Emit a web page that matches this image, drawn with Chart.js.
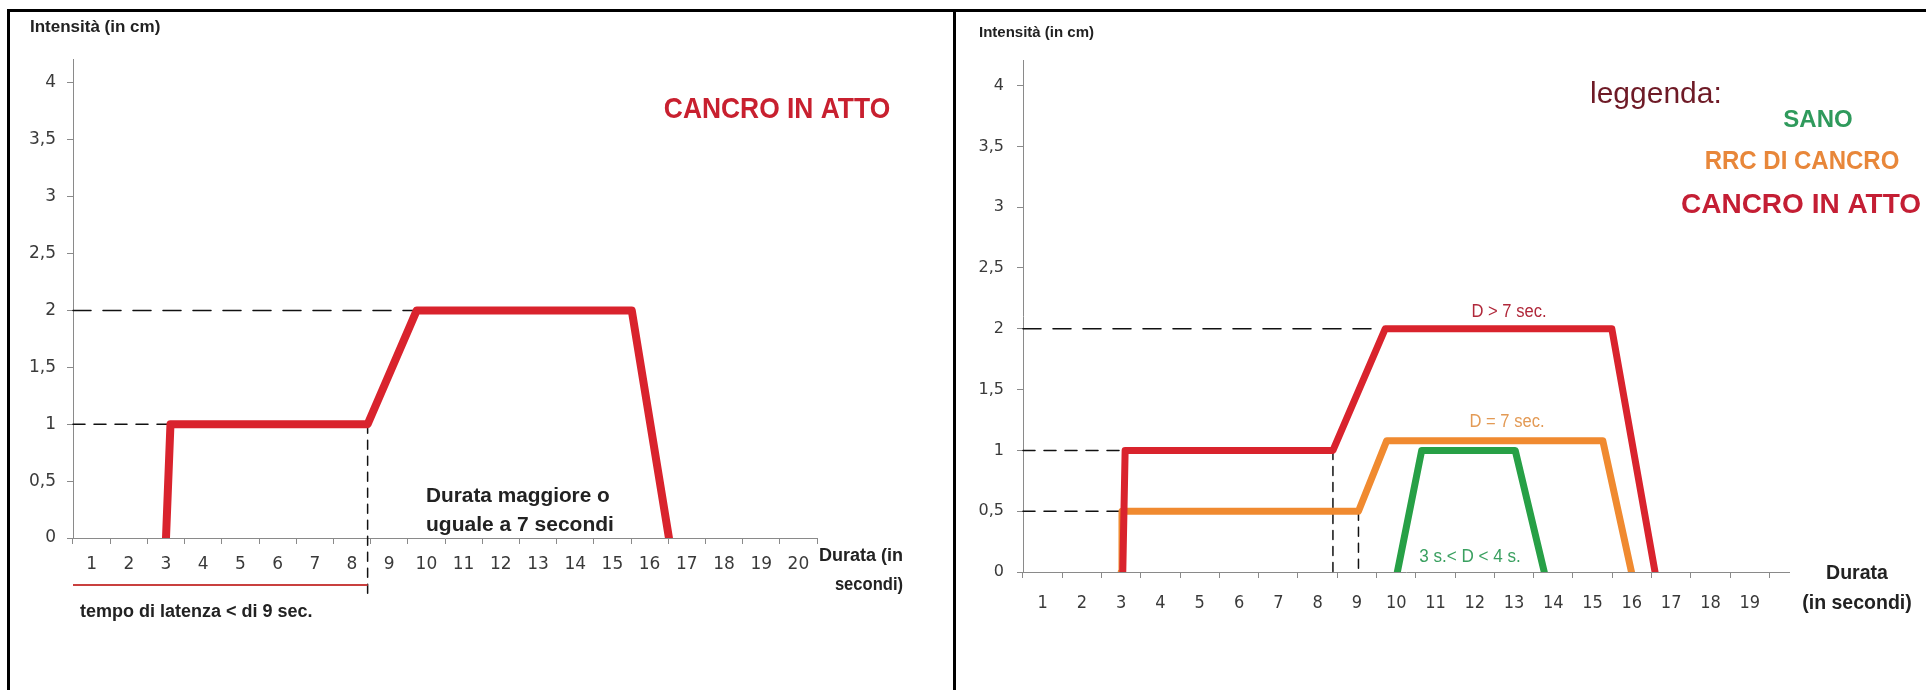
<!DOCTYPE html>
<html>
<head>
<meta charset="utf-8">
<script src="https://cdn.jsdelivr.net/npm/chart.js@4.4.1/dist/chart.umd.min.js"></script>
<style>
  html, body { margin: 0; padding: 0; background: #fff; }
  #wrap { position: relative; width: 1926px; height: 690px; overflow: hidden; }
  canvas { position: absolute; top: 0; }
  #cvSx { left: 0; }
  #cvDx { left: 955px; }
  .frame { position: absolute; background: #000; }
</style>
</head>
<body>
<div id="wrap">
  <canvas id="cvSx" width="955" height="690"></canvas>
  <canvas id="cvDx" width="971" height="690"></canvas>
  <div class="frame" style="left:8px;top:9px;width:1918px;height:3px"></div>
  <div class="frame" style="left:7px;top:9px;width:3px;height:681px"></div>
  <div class="frame" style="left:953px;top:9px;width:3px;height:681px"></div>
</div>
<script>
// valori: x = durata (secondi), y = intensità (cm)
var yTicks = [0, 0.5, 1, 1.5, 2, 2.5, 3, 3.5, 4];
var xLabelsSx = [1, 2, 3, 4, 5, 6, 7, 8, 9, 10, 11, 12, 13, 14, 15, 16, 17, 18, 19, 20];
var xLabelsDx = [1, 2, 3, 4, 5, 6, 7, 8, 9, 10, 11, 12, 13, 14, 15, 16, 17, 18, 19];

// grafico sinistro: cancro in atto
var tempoSx = [3.0, 3.12, 8.42, 9.74, 15.52, 16.52];
var cancroSx = [0, 1, 1, 2, 2, 0];

// grafico destro
var tempoCancro = [3.04, 3.1, 8.39, 9.72, 15.49, 16.59];
var cancro = [0, 1, 1, 2, 2, 0];
var tempoRrc = [3.0, 3.02, 9.04, 9.76, 15.26, 15.99];
var rrc = [0, 0.5, 0.5, 1.08, 1.08, 0];
var tempoSano = [10.03, 10.65, 13.03, 13.77];
var sano = [0, 1, 1, 0];

var SANS = "'Liberation Sans', Arial, sans-serif";
var COND = "'DejaVu Sans Condensed', 'Liberation Sans', sans-serif";

Chart.defaults.font.family = "'DejaVu Sans', sans-serif";

function punti(xs, ys) {
    return xs.map(function (x, i) { return { x: x, y: ys[i] }; });
}

function curva(xs, ys, colore, spessore, ordine) {
    return {
        data: punti(xs, ys),
        borderColor: colore,
        borderWidth: spessore,
        pointRadius: 0,
        order: ordine
    };
}

function tratteggio(pts, dash) {
    return {
        data: pts,
        borderColor: '#111',
        borderWidth: 1.5,
        borderDash: dash,
        pointRadius: 0,
        clip: false,
        order: 10
    };
}

// scritte libere; sx = compressione orizzontale (caratteri "narrow")
function testi(items, extra) {
    return {
        id: 'testi',
        afterDraw: function (chart) {
            var c = chart.ctx;
            if (extra) extra(chart);
            items.forEach(function (t) {
                c.save();
                c.font = t.font;
                c.fillStyle = t.color;
                c.textAlign = t.align || 'left';
                c.textBaseline = 'middle';
                c.translate(t.x, t.y);
                c.scale(t.sx || 1, 1);
                c.fillText(t.text, 0, 0);
                c.restore();
            });
        }
    };
}

function opzioni(cfg) {
    return {
        responsive: false,
        animation: false,
        devicePixelRatio: 1,
        layout: { padding: cfg.padding },
        plugins: { legend: { display: false }, tooltip: { enabled: false } },
        elements: {
            line: { tension: 0, borderJoinStyle: 'round', borderCapStyle: 'round' },
            point: { radius: 0 }
        },
        scales: {
            x: {
                type: 'linear',
                min: 0.5,
                max: cfg.xMax,
                afterBuildTicks: function (s) { s.ticks = cfg.xLabels.map(function (v) { return { value: v }; }); },
                afterFit: function (s) { s.height = 40; },
                grid: { offset: true, drawOnChartArea: false, drawTicks: true, tickLength: 6, color: '#8a8a8a' },
                border: { display: true, color: '#8a8a8a', width: 1 },
                ticks: { autoSkip: false, maxRotation: 0, padding: cfg.xPad, color: '#3a3a3a', font: cfg.xFont }
            },
            y: {
                min: 0,
                max: 4.21,
                afterBuildTicks: function (s) { s.ticks = yTicks.map(function (v) { return { value: v }; }); },
                afterFit: function (s) { s.width = 60; },
                grid: { drawOnChartArea: false, drawTicks: true, tickLength: 6, color: '#8a8a8a' },
                border: { display: true, color: '#8a8a8a', width: 1 },
                ticks: {
                    padding: cfg.yPad, color: '#3a3a3a', font: cfg.yFont,
                    callback: function (v) { return String(v).replace('.', ','); }
                }
            }
        }
    };
}

// ---- pannello sinistro ----
new Chart(document.getElementById('cvSx'), {
    type: 'line',
    data: {
        datasets: [
            curva(tempoSx, cancroSx, '#d9232d', 8, 0),
            tratteggio([{ x: 0.5, y: cancroSx[3] }, { x: tempoSx[3], y: cancroSx[3] }], [18, 12]),
            tratteggio([{ x: 0.5, y: cancroSx[1] }, { x: tempoSx[1], y: cancroSx[1] }], [12, 9]),
            tratteggio([{ x: tempoSx[2], y: cancroSx[2] }, { x: tempoSx[2], y: -0.5 }], [9, 7])
        ]
    },
    options: opzioni({
        padding: { left: 13, right: 138, top: 59, bottom: 112 },
        xMax: 20.5, xLabels: xLabelsSx,
        xPad: 10, yPad: 11,
        xFont: { size: 17, family: "'DejaVu Sans', sans-serif" },
        yFont: { size: 17, family: "'DejaVu Sans', sans-serif" }
    }),
    plugins: [testi([
        { text: 'Intensità (in cm)', x: 30, y: 27, font: 'bold 17px ' + SANS, color: '#222' },
        { text: 'CANCRO IN ATTO', x: 777, y: 110, align: 'center', sx: 0.88, font: 'bold 30px ' + SANS, color: '#c8202f' },
        { text: 'Durata maggiore o', x: 426, y: 496, sx: 1.04, font: 'bold 20px ' + SANS, color: '#222' },
        { text: 'uguale a 7 secondi', x: 426, y: 525, sx: 1.05, font: 'bold 20px ' + SANS, color: '#222' },
        { text: 'Durata (in', x: 903, y: 556, align: 'right', font: 'bold 18px ' + SANS, color: '#222' },
        { text: 'secondi)', x: 903, y: 585, align: 'right', sx: 0.92, font: 'bold 18px ' + SANS, color: '#222' },
        { text: 'tempo di latenza < di 9 sec.', x: 80, y: 612, font: 'bold 18px ' + SANS, color: '#222' }
    ], function (chart) {
        // riga rossa sotto l'asse fino alla fine della latenza
        var c = chart.ctx;
        var xEnd = chart.scales.x.getPixelForValue(tempoSx[2]);
        c.save();
        c.strokeStyle = '#c9403f';
        c.lineWidth = 2;
        c.beginPath();
        c.moveTo(chart.chartArea.left, 585);
        c.lineTo(xEnd, 585);
        c.stroke();
        c.restore();
    })]
});

// ---- pannello destro ----
new Chart(document.getElementById('cvDx'), {
    type: 'line',
    data: {
        datasets: [
            curva(tempoCancro, cancro, '#d9232d', 7, 0),
            curva(tempoRrc, rrc, '#f08a30', 7, 1),
            curva(tempoSano, sano, '#27a046', 7, 2),
            tratteggio([{ x: 0.5, y: cancro[3] }, { x: tempoCancro[3], y: cancro[3] }], [18, 12]),
            tratteggio([{ x: 0.5, y: cancro[1] }, { x: tempoCancro[1], y: cancro[1] }], [12, 9]),
            tratteggio([{ x: 0.5, y: rrc[1] }, { x: tempoRrc[1], y: rrc[1] }], [12, 9]),
            tratteggio([{ x: tempoCancro[2], y: cancro[2] }, { x: tempoCancro[2], y: 0 }], [9, 7]),
            tratteggio([{ x: tempoRrc[2], y: rrc[2] }, { x: tempoRrc[2], y: 0 }], [9, 7])
        ]
    },
    options: opzioni({
        padding: { left: 8, right: 137, top: 60, bottom: 78 },
        xMax: 20.0, xLabels: xLabelsDx,
        xPad: 15, yPad: 13,
        xFont: { size: 18, family: COND },
        yFont: { size: 16, family: "'DejaVu Sans', sans-serif" }
    }),
    plugins: [testi([
        { text: 'Intensità (in cm)', x: 24, y: 33, font: 'bold 15px ' + SANS, color: '#222' },
        { text: 'leggenda:', x: 635, y: 95, font: '30px ' + SANS, color: '#6e1a26' },
        { text: 'SANO', x: 863, y: 120, align: 'center', font: 'bold 24px ' + SANS, color: '#2f9a5c' },
        { text: 'RRC DI CANCRO', x: 847, y: 162, align: 'center', sx: 0.96, font: 'bold 25px ' + SANS, color: '#e8873a' },
        { text: 'CANCRO IN ATTO', x: 846, y: 205, align: 'center', font: 'bold 28px ' + SANS, color: '#c41e34' },
        { text: 'D > 7 sec.', x: 554, y: 312, align: 'center', sx: 0.92, font: '18px ' + SANS, color: '#b0283a' },
        { text: 'D = 7 sec.', x: 552, y: 422, align: 'center', sx: 0.92, font: '18px ' + SANS, color: '#e39a55' },
        { text: '3 s.< D < 4 s.', x: 515, y: 557, align: 'center', sx: 0.95, font: '18px ' + SANS, color: '#3aa060' },
        { text: 'Durata', x: 902, y: 573, align: 'center', sx: 0.93, font: 'bold 21px ' + SANS, color: '#222' },
        { text: '(in secondi)', x: 902, y: 603, align: 'center', sx: 0.93, font: 'bold 21px ' + SANS, color: '#222' }
    ])]
});
</script>
</body>
</html>
